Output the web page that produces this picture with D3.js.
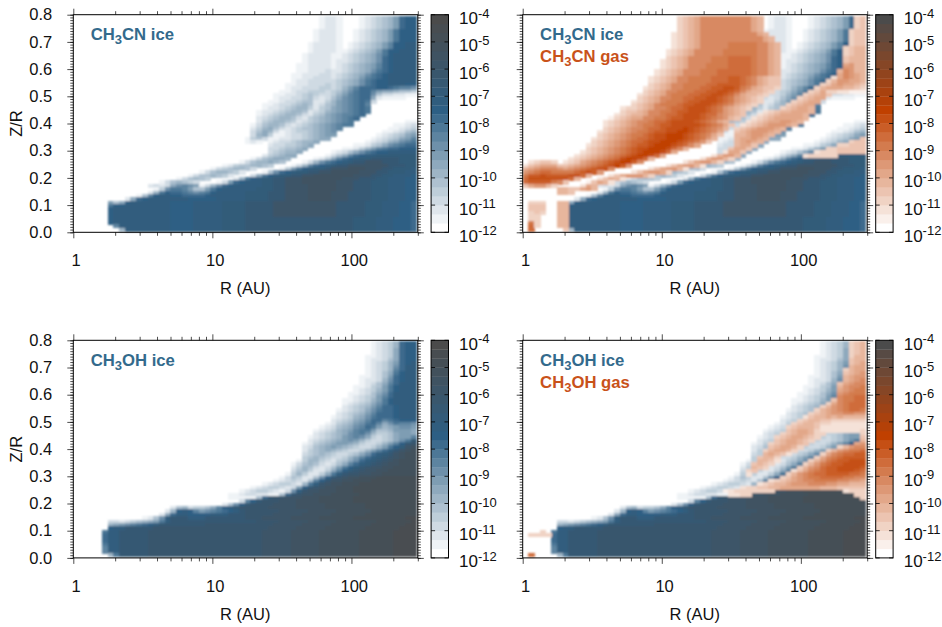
<!DOCTYPE html>
<html>
<head>
<meta charset="utf-8">
<script src="https://cdn.jsdelivr.net/npm/d3@7"></script>
<style>
  body { margin: 0; background: #fff; }
  text { font-family: "Liberation Sans", Arial, sans-serif; fill: #111; }
</style>
</head>
<body>
<svg id="chart" width="942" height="627"></svg>
<script>
// each grid row runs from z/r = 0.8 downward, written as "startColumn:levels"
// one base 36 digit per cell, level 0 is empty, every level is a third of a decade
const cnIce = [
  '43:12210001234568cdd', '43:12210001234568cdd', '43:12210001234568cdd', '43:12210001234568cdd',
  '42:12221001234568bddd', '42:12221001234568bddd', '42:12221001234568bddd', '42:12221001234568bddd',
  '41:12222101234568addee', '41:12222101234568addee', '41:1222211234568bddeee',
  '40:12222112345679bdeeee', '40:12222112345679cdeeee', '40:12222122345679cdeeee',
  '39:11222212345678acdeeee', '39:11222212345678acdeeee', '39:11222322345679bcdeeee',
  '38:11222332345679bcdeeeee', '38:1122333234568abcdeeeee', '38:1223333345679bcddeeeee',
  '37:11223334345679bcddeeedd', '37:122333443468acccddcbaa9', '36:1123344434579bcca8776554',
  '35:1122345433468abcc95332211', '35:1223345323579abcc72111100', '34:11233455224689abcb3',
  '33:112334565235689abca', '33:122345664245789abcb', '32:1223456652346789abcb',
  '32:123456653245789aabc', '32:234566532456789abc', '32:245665423456789ab 58:11',
  '31:135665323456789abb 56:1123', '31:246753234556789a 55:11234', '31:357631234456789 54:112356',
  '31:367411233456788 53:1234578', '30:145311223345677 52:1234578a', '30:121 34:123345667 51:1234679ab',
  '34:23344567 49:1124579abcc', '34:3345567 47:112468abccddd', '34:345667 45:123579bcddeeeee',
  '33:245677 44:1357acdeefffffff', '31:1356776 42:1247acdeffgggggfff', '29:13566765 40:1369bcdefggiiigggfff',
  '26:124556654 38:136acdefggiiiiiiigggff', '24:13456653 36:148bdeffgiiijjjiiiggfffe',
  '22:13566542 33:159cdeffggiijjjjjiiiggfffee', '20:13556542 31:37bdeffggiijjjjjjjiiiggffeeed',
  '18:135654 28:26bdeffggiiijjjjjjjiiigggffeeedd', '15:1356543 25:138cdeeeffggiiijjjjjjiiigggfffeeedd',
  '13:232 16:379a98 22:1369cdeeeeeffggiiiijjjjjiiigggfffeeedd',
  '14:149bba8558bdeeeeeefffggiiiijjjjjiiigggfffeeedd',
  '13:26bdccba9abdeeeeeffffgggiiiijjjjiiiggggfffeeedd',
  '11:15adeeddccccdeeeeeeffffgggiiiijjjjiiiggggfffeeedd',
  '9:27cdeeeeeeedddddeeeeeffffgggiiiijjjjiiiggggfffeeedd',
  '6:857deeeeeeeddddeeeeeffffgggggiiiiiiiiiiigggggfffeeeddc',
  '6:bddeeeeeeeeddddeeeeeffffgggggiiiiiiiiiiigggggfffeeeddc',
  '6:deeeeeeeeeeddddeeeeeffffgggggiiiiiiiiiiigggggfffeeeddc',
  '6:deeeeeeeeeeddddeeeeeffffgggggiiiiiiiiiiigggggfffeeeddc',
  '6:deeeeeeeeeeddddeeeeeffffgggggiiiiiiiiiiigggggfffeeeddc',
  '6:deeeeeeeeeeddddeeeeeffffgggggggggggggggggggffffeeedddc',
  '6:deeeeeeeeeeddddeeeeeffffgggggggggggggggggggffffeeedddc',
  '7:aeeeeeeeeeddddeeeeeffffgggggggggggggggggggffffeeedddc',
  '8:6eeeeeeeeddddeeeeeffffgggggggggggggggggggffffeeedddc'
]

const cnGas = [
  '27:345688888888865 58:34', '27:345688888888865 58:34', '27:345688888888865 58:34', '27:345688888888865 58:34',
  '27:345688888888865 57:344', '26:23456888888888865 57:344', '26:234568888888888865 57:344', '26:234568888888888865 57:344',
  '26:2345688888999998865 57:344', '26:2345688888999998865 56:3455',
  '25:23456888889999998865 56:3455', '25:23456888889999998865 56:3455',
  '25:34568888999aaaa98865 56:4555', '24:234568888999aaaa98865 56:4555',
  '24:234568889999aaaa98865 56:6755', '24:234568889999aaaa98865 56:7755',
  '23:23456888999aaaaaa98865 55:58755', '23:23456888999aaaaaa98865 55:68765',
  '22:23456889999aaabba986544 54:268765', '22:23456889999aaabba986544 53:3577665',
  '22:3456889999aabbbba986544 52:34676654', '21:2345688999aabbccb9865443 51:356665543',
  '21:345688999aabbccba865543 50:3463322111', '20:234568999aabbccba865543 49:34564',
  '20:34568899aabbccba976543 48:34566', '19:234568999abbcccba976543 47:34566',
  '19:34568999abbcccba986543 46:34566', '17:233456889aabcccba976543 45:345665',
  '17:344568899abbcccba97654 42:234556665', '16:234556889aabcccbaa87654 41:234566665',
  '15:1345668899abbcccba98754 40:2345666665', '14:234567889aabccccba9865 39:2345667765',
  '14:234567899abbcccccba9864 38:2345677765', '14:34567889aabcccdcba9875 37:345677765',
  '13:234567899abbccddcba986 37:45677765', '13:34567899abccdddcba9864 37:5567765',
  '12:23456789aabccdddcba975 37:566765 59:4', '12:3456789aabccdddcba974 37:56765 57:344',
  '11:23456789abbcdddcba86 37:5664 55:33444', '11:3456789abccdddca85 36:4664 53:3344444',
  '10:23456789abcdddca6 35:2664 51:233344444', '9:23456789abcddca6 33:25775 49:233333',
  '8:23456789acddca5 31:257753', '1:23443 7:2346789abcddb8 28:2467753',
  '0:2456664456789abcdb7 25:2467752', '0:56788876789abcc8 22:2467752',
  '0:789aa9999abcb7 19:2467763', '0:9bbcbbbbcca5 15:24677753',
  '0:accccccca5 13:24652', '0:abbbb984 11:14652', '0:467753 10:265',
  '6:5544675', '6:554', '', '',
  '1:333 6:55', '1:444 6:55', '1:444 6:55', '1:343 6:55', '1:33 6:55', '1:33 6:55',
  '1:93 6:55', '1:a3 6:55', '1:a 7:4'
]

const ohIce = [
  '52:12346cdd', '52:12346cdd', '52:12347cdd', '52:12347cdd',
  '51:112347cdd', '51:122357cdd', '51:123468cde', '51:123469cee', '51:12346acee', '51:12357bdee',
  '50:112358cdee', '50:122369cdee', '50:12357aceee', '49:112458bdeee', '49:123468bdeee',
  '48:1123579ceeee', '48:123458aceeee', '47:1123468bdeeee', '47:1234579bdeeee', '47:234568accdeee',
  '46:1234579bccdeee', '46:234568acccdeee', '45:1234679bcccdeee', '45:234578accabcddd',
  '44:1245689bca79baa9', '43:1235679acb8678998', '42:1234678abb85568887', '42:2345679ab964457887',
  '41:12345689a974345788a', '41:23456789864334579bg', '40:1245678876433468adgh',
  '40:235678765433468bdfij', '40:2456765433468acegijk', '40:345654334579cefgijkk',
  '40:4565433468acefghijkk', '39:14664324579cefghijkkk', '38:1356532357acefghijjkkk',
  '38:246532358bdfghiijjkkkk', '38:35642247adfghiijjkkkkk', '37:14642247beghhiijjkkkkkk',
  '36:13542259dghijjkkklllllll', '35:1234325adgiijjkkkllllllll', '33:12344326behijjkkkllllllllll',
  '31:123443238dghijjkkklllllllllll', '29:1234432139ehiijjjkkklllllllllll',
  '27:1123322115cghiijjjkkkkkllllllllll', '27:11111 32:5cghhiiijjjkkkkkklllllllllll',
  '29:3adghhhiiijjjjkkkkkklllllllllll', '26:259dghhhhiiiijjjjjkkkkkkklllllllll',
  '17:25634457adeghhhhhiiiiijjjjjkkkkkkklllllllll',
  '16:26deda89abcdeghhhhhhiiiiijjjjjkkkkkklllllllll',
  '15:27ceeddddeeeggghhhhhiiiiijjjjjkkkkkklllllllll',
  '12:1259egggeeeggggggghhhiiiiijjjjjkkkkkklllllllllmmm',
  '6:332345678beggggggggggggggghhhhiiiiijjjjjkkkkkkkllllllmmm',
  '6:6789abcdegggggggghhhhhhhhhhhhiiiiijjjjjkkkkkkkllllllmmm',
  '6:deeggggghhhhhhhhhhhhhhhhhhhhiiiiijjjjjkkkkkkkllllllmmm',
  '5:beeggggghhhhhhhhhhhhhhhhhhhhiiiiijjjjjkkkkkkkllllllmmmm',
  '5:ceeggggghhhhhhhhhhhhhhhhhhhhiiiiijjjjjkkkkkkkllllllmmmm',
  '5:ceeggggghhhhhhhhhhhhhhhhhhhhiiiiijjjjjkkkkkkkllllllmmmm',
  '5:ceeggggghhhhhhhhhhhhhhhhhhhhiiiiijjjjjkkkkkkkllllllmmmm',
  '5:beeggggghhhhhhhhhhhhhhhhhhhhiiiiijjjjjkkkkkkkllllllmmmm',
  '5:aeeggggghhhhhhhhhhhhhhhhhhhhiiiiijjjjjkkkkkkkllllllmmmm',
  '5:aeeggggghhhhhhhhhhhhhhhhhhhhiiiiijjjjjkkkkkkkllllllmmmm',
  '6:6bggggghhhhhhhhhhhhhhhhhhhhiiiiijjjjjkkkkkkkllllllmmmm'
]

const ohGas = [
  '57:345', '57:345', '57:345', '57:345', '57:355', '57:455', '57:456', '57:566',
  '56:3566', '56:4567', '56:5677', '56:5678', '55:46788', '55:57889', '55:67899', '55:78999',
  '55:899aa', '54:4899aa', '53:3689aaa', '52:35789aaa', '51:356789aa9', '50:3456778877',
  '49:24556565555', '48:345544333333', '47:3455433222222', '46:34555422222222', '46:45665322222223',
  '45:34566533 59:3', '44:34566543 59:4', '44:4566543 59:5', '43:3456654 58:67',
  '43:456653 55:35788', '42:356653 53:357899a', '42:56542 52:3689aabb', '41:4553 51:3689abbbb',
  '41:5542 50:3579abbccc', '40:4543 49:3579abbcccc', '40:543 48:3578abbccccb',
  '39:34 47:24689abbcccba', '39:2 46:35789aabbbbaa9', '45:3467899aaaa9988', '43:23456788999988776',
  '41:2345567778887766555', '38:2334455666666655544444', '35:123333333 56:2333', '36:2233 58:33', '59:3',
  '', '', '', '', '', '', '', '', '', '3:3', '1:3333', '', '', '', '', '', '1:a'
]

const xMajor = [1, 10, 100]
const xMinor = [2, 3, 4, 5, 6, 7, 8, 9, 20, 30, 40, 50, 60, 70, 80, 90, 200, 300]
const yMajor = [0, 0.1, 0.2, 0.3, 0.4, 0.5, 0.6, 0.7, 0.8]
const barExponents = [-12, -11, -10, -9, -8, -7, -6, -5, -4]

const panels = [
  { left: 73.3, top: 14.7, barGap: 13.3, ice: cnIce, gas: null, labels: ['CH|3|CN ice'], yLabels: true },
  { left: 522.7, top: 14.7, barGap: 8.5, ice: cnIce, gas: cnGas, labels: ['CH|3|CN ice', 'CH|3|CN gas'], yLabels: false },
  { left: 73.3, top: 340.3, barGap: 13.3, ice: ohIce, gas: null, labels: ['CH|3|OH ice'], yLabels: true },
  { left: 522.7, top: 340.3, barGap: 8.5, ice: ohIce, gas: ohGas, labels: ['CH|3|OH ice', 'CH|3|OH gas'], yLabels: false }
]

const plotW = 344.5
const plotH = 217.6
const nLevels = 24
const nCols = 60
const nRows = 64
const blue = '#336a8c'
const orange = '#c9521a'

const icePalette = d3.scaleLinear().domain([0, 13, 23]).range(['#ffffff', '#2d5f84', '#4b4b4b'])
const gasPalette = d3.scaleLinear().domain([0, 13, 23]).range(['#ffffff', '#c04000', '#4b4b4b'])

const svg = d3.select('#chart')
svg.append('defs').append('filter')
  .attr('id', 'soft')
  .append('feGaussianBlur')
  .attr('stdDeviation', 0.8)

const x = d3.scaleLog().domain([1, 300]).range([0, plotW])
const y = d3.scaleLinear().domain([0, 0.8]).range([plotH, 0])

function parseGrid(rows) {
  const cells = []
  rows.forEach((row, r) => {
    row.split(' ').filter(Boolean).forEach(token => {
      const [start, levels] = token.split(':')
      Array.from(levels).forEach((ch, i) => {
        const level = parseInt(ch, 36)
        const c = +start + i
        if (level > 0 && c < nCols) cells.push({ r, c, level })
      })
    })
  })
  return cells
}

function drawCells(g, cells, palette) {
  const colR = c => Math.pow(10, c * 2.466 / nCols)
  const rowZ = r => 0.797 - r * 0.792 / nRows
  g.selectAll(null)
    .data(cells)
    .enter().append('rect')
    .attr('x', d => x(colR(d.c)))
    .attr('y', d => y(rowZ(d.r)))
    .attr('width', d => x(colR(d.c + 1)) - x(colR(d.c)) + 0.8)
    .attr('height', d => y(rowZ(d.r + 1)) - y(rowZ(d.r)) + 0.8)
    .attr('shape-rendering', 'crispEdges')
    .attr('fill', d => palette(d.level))
}

function drawAxes(g, yLabels) {
  g.append('g').attr('transform', `translate(0,${plotH})`)
    .call(d3.axisBottom(x).tickValues(xMinor).tickSize(3.5).tickFormat(''))
  const bottomMajor = g.append('g').attr('transform', `translate(0,${plotH})`)
    .call(d3.axisBottom(x).tickValues(xMajor).tickSize(6).tickPadding(16).tickFormat(d3.format('d')))
  bottomMajor.selectAll('text').attr('dx', 2.3).attr('dy', 12)

  g.append('g').call(d3.axisTop(x).tickValues(xMinor).tickSize(3.5).tickFormat(''))
  g.append('g').call(d3.axisTop(x).tickValues(xMajor).tickSize(6).tickFormat(''))

  const fine = d3.range(0, 81).map(d => d / 100)
  g.append('g').call(d3.axisLeft(y).tickValues(fine).tickSize(3).tickFormat(''))
  g.append('g').call(d3.axisLeft(y).tickValues(yMajor).tickSize(6).tickPadding(15)
    .tickFormat(yLabels ? d3.format('.1f') : ''))
  const right = g.append('g').attr('transform', `translate(${plotW},0)`)
  right.append('g').call(d3.axisRight(y).tickValues(fine).tickSize(3).tickFormat(''))
  right.append('g').call(d3.axisRight(y).tickValues(yMajor).tickSize(6).tickFormat(''))

  g.selectAll('.domain').remove()
  g.selectAll('.tick line').attr('stroke', '#000').attr('stroke-width', 0.7)
  g.selectAll('.tick text').attr('font-size', 16.5).attr('fill', '#111')

  g.append('rect')
    .attr('width', plotW).attr('height', plotH)
    .attr('fill', 'none').attr('stroke', '#000').attr('stroke-width', 1)

  g.append('text')
    .attr('x', 172).attr('y', 279.5)
    .attr('text-anchor', 'middle').attr('font-size', 16.5)
    .text('R (AU)')
  if (yLabels) {
    g.append('text')
      .attr('transform', `translate(-51.5,${plotH / 2}) rotate(-90)`)
      .attr('text-anchor', 'middle').attr('font-size', 16.5)
      .text('Z/R')
  }
}

function drawColorBar(g, palette) {
  const barW = 17.4
  const band = d3.scaleLinear().domain([0, nLevels]).range([plotH, 0])
  const exponent = d3.scaleLinear().domain([-12, -4]).range([plotH, 0])

  g.selectAll('rect.band')
    .data(d3.range(nLevels))
    .enter().append('rect')
    .attr('class', 'band')
    .attr('x', 0)
    .attr('y', d => band(d + 1))
    .attr('width', barW)
    .attr('height', d => band(d) - band(d + 1) + 0.3)
    .attr('fill', d => palette(d))

  const marks = g.selectAll('g.mark').data(barExponents).enter().append('g')
    .attr('class', 'mark')
    .attr('transform', d => `translate(0,${exponent(d)})`)
  marks.append('line').attr('x1', 0).attr('x2', 4).attr('stroke', '#000').attr('stroke-width', 0.8)
  marks.append('line').attr('x1', barW - 4).attr('x2', barW).attr('stroke', '#000').attr('stroke-width', 0.8)

  const label = marks.append('text').attr('x', 28).attr('y', 9.5).attr('font-size', 17)
  label.append('tspan').text('10')
  label.append('tspan').attr('dy', -6.5).attr('font-size', 13).text(d => d)

  g.append('rect')
    .attr('width', barW).attr('height', plotH)
    .attr('fill', 'none').attr('stroke', '#000').attr('stroke-width', 1)
}

function drawLabel(g, label, i, color) {
  const [head, sub, tail] = label.split('|')
  const t = g.append('text')
    .attr('x', 17.4)
    .attr('y', 25.3 + i * 22.4)
    .attr('font-size', 16.7)
    .attr('font-weight', 'bold')
  t.append('tspan').style('fill', color).text(head)
  t.append('tspan').style('fill', color).attr('dy', 4).attr('font-size', 13).text(sub)
  t.append('tspan').style('fill', color).attr('dy', -4).text(tail)
}

panels.forEach(panel => {
  const g = svg.append('g').attr('transform', `translate(${panel.left},${panel.top})`)
  const heat = g.append('g').attr('filter', 'url(#soft)')
  drawCells(heat, parseGrid(panel.ice), icePalette)
  if (panel.gas) drawCells(heat, parseGrid(panel.gas), gasPalette)

  drawAxes(g, panel.yLabels)
  panel.labels.forEach((label, i) => drawLabel(g, label, i, i === 0 ? blue : orange))

  const bar = g.append('g').attr('transform', `translate(${plotW + panel.barGap},0)`)
  drawColorBar(bar, panel.gas ? gasPalette : icePalette)
})
</script>
</body>
</html>
